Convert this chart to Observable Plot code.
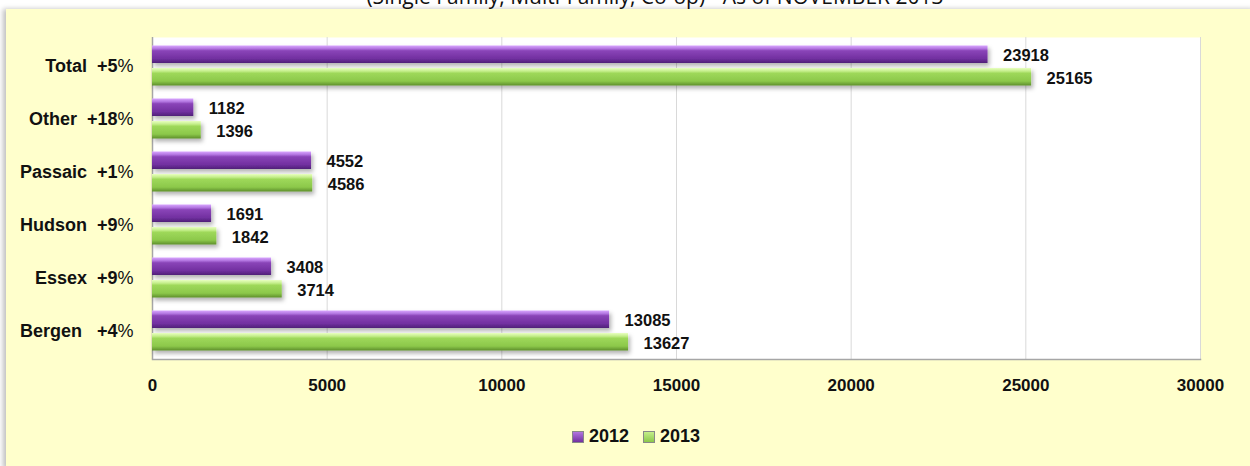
<!DOCTYPE html>
<html>
<head>
<meta charset="utf-8">
<script src="https://cdn.jsdelivr.net/npm/d3@7"></script>
<script src="https://cdn.jsdelivr.net/npm/@observablehq/plot@0.6"></script>
<style>
  html, body { margin: 0; padding: 0; background: #ffffff; }
  #page { position: relative; width: 1250px; height: 466px; overflow: hidden; background: #ffffff; }
  #title { position: absolute; left: 0; width: 1310px; top: -15px; text-align: center; font-family: "Open Sans", "Noto Sans", sans-serif; font-size: 21px; line-height: 22px; color: #111; white-space: nowrap; }
  #panel { position: absolute; left: 6px; top: 9px; width: 1250px; height: 460px; background: #ffffcc; box-shadow: -3px 0 5px rgba(0,0,0,0.25); }
  #chart { position: absolute; left: 0; top: 0; }
  #legend { position: absolute; left: 572px; top: 426px; display: flex; align-items: center; font-family: "Liberation Sans", Arial, sans-serif; font-weight: bold; font-size: 18px; color: #111; }
  #legend .sw { width: 10px; height: 10px; border: 1px solid #888; margin-right: 5px; }
  #legend .item { display: flex; align-items: center; margin-right: 14px; }
</style>
</head>
<body>
<div id="page">
  <div id="title">(Single Family, Multi-Family, Co-op) - As of NOVEMBER 2013</div>
  <div id="panel"></div>
  <div id="chart"></div>
  <div id="legend"></div>
</div>
<script>
const categories = ["Total", "Other", "Passaic", "Hudson", "Essex", "Bergen"];
const changes = ["+5", "+18", "+1", "+9", "+9", "+4"];
const gaps = [2, 2, 2, 2, 2, 3];
const years = ["2012", "2013"];
const values2012 = [23918, 1182, 4552, 1691, 3408, 13085];
const values2013 = [25165, 1396, 4586, 1842, 3714, 13627];
const xTicks = [0, 5000, 10000, 15000, 20000, 25000, 30000];

const rows = [];
categories.forEach((c, i) => {
  rows.push({cat: c, year: "2012", value: values2012[i]});
  rows.push({cat: c, year: "2013", value: values2013[i]});
});
const labelOf = new Map(categories.map((c, i) => [c, c + "\u00a0".repeat(gaps[i]) + changes[i] + "%"]));

const font = "'Liberation Sans', Arial, sans-serif";
const gradRange = ["url(#g2012)", "url(#g2013)"];

const chart = Plot.plot({
  width: 1250,
  height: 466,
  marginLeft: 152,
  marginRight: 50,
  marginTop: 37,
  marginBottom: 107,
  style: {background: "transparent", fontFamily: font, fontWeight: "bold", fontSize: "17px", color: "#111"},
  x: {domain: [0, 30000], label: null},
  y: {domain: categories, padding: 0, label: null},
  color: {domain: years, range: gradRange},
  marks: [
    Plot.frame({fill: "white", stroke: "none"}),
    Plot.ruleX(xTicks, {stroke: "#d9d9d9", strokeWidth: 1}),
    Plot.ruleX([0], {stroke: "#a6a6a6", strokeWidth: 1.5}),
    Plot.frame({anchor: "bottom", stroke: "#a6a6a6", strokeWidth: 1.5}),
    Plot.barX(rows.filter(d => d.year === "2012"), {x: "value", y: "cat", fill: "year", insetTop: 6.5, insetBottom: 29}),
    Plot.barX(rows.filter(d => d.year === "2013"), {x: "value", y: "cat", fill: "year", insetTop: 29, insetBottom: 6.5}),
    Plot.text(rows.filter(d => d.year === "2012"), {x: "value", y: "cat", text: d => String(d.value), textAnchor: "start", dx: 15, dy: -10, fontWeight: "bold", fontSize: 16.5, fill: "#111"}),
    Plot.text(rows.filter(d => d.year === "2013"), {x: "value", y: "cat", text: d => String(d.value), textAnchor: "start", dx: 15, dy: 13, fontWeight: "bold", fontSize: 16.5, fill: "#111"}),
    Plot.axisX({ticks: xTicks, tickSize: 0, tickPadding: 19, tickFormat: d => String(d), fontWeight: "bold", fontSize: 17}),
    Plot.axisY({tickSize: 0, tickPadding: 19, tickFormat: d => labelOf.get(d), fontWeight: "bold", fontSize: 18})
  ]
});

// gradients and shadow definitions
const svg = d3.select(chart);
const defs = svg.insert("defs", ":first-child");
const g1 = defs.append("linearGradient").attr("id", "g2012").attr("x1", 0).attr("x2", 0).attr("y1", 0).attr("y2", 1);
[["0%", "#d9a6ff"], ["18%", "#b275e0"], ["30%", "#8a45b8"], ["75%", "#7230a0"], ["100%", "#4f1f78"]].forEach(([o, c]) => g1.append("stop").attr("offset", o).attr("stop-color", c));
const g2 = defs.append("linearGradient").attr("id", "g2013").attr("x1", 0).attr("x2", 0).attr("y1", 0).attr("y2", 1);
[["0%", "#e8ffc0"], ["18%", "#c4ee8a"], ["30%", "#9ed85a"], ["75%", "#8cc84a"], ["100%", "#5e8f2c"]].forEach(([o, c]) => g2.append("stop").attr("offset", o).attr("stop-color", c));
const f = defs.append("filter").attr("id", "shadow").attr("x", "-5%").attr("y", "-30%").attr("width", "115%").attr("height", "190%");
f.append("feDropShadow").attr("dx", 2).attr("dy", 3).attr("stdDeviation", 2).attr("flood-color", "#000").attr("flood-opacity", 0.3);
svg.selectAll("g[aria-label='bar']").attr("filter", "url(#shadow)");

// make the % sign of the y-axis labels regular weight
svg.selectAll("g[aria-label='y-axis tick label'] text").each(function() {
  const t = d3.select(this);
  const s = t.text();
  if (s.endsWith("%")) {
    t.text(s.slice(0, -1));
    t.append("tspan").attr("font-weight", "normal").text("%");
  }
});

document.getElementById("chart").appendChild(chart);

// legend
const legend = d3.select("#legend");
years.forEach((y, i) => {
  const it = legend.append("div").attr("class", "item");
  it.append("div").attr("class", "sw").style("background", `linear-gradient(to bottom, ${i === 0 ? "#b275e0, #7230a0" : "#c4ee8a, #8cc84a"})`);
  it.append("span").text(y);
});
</script>
</body>
</html>
